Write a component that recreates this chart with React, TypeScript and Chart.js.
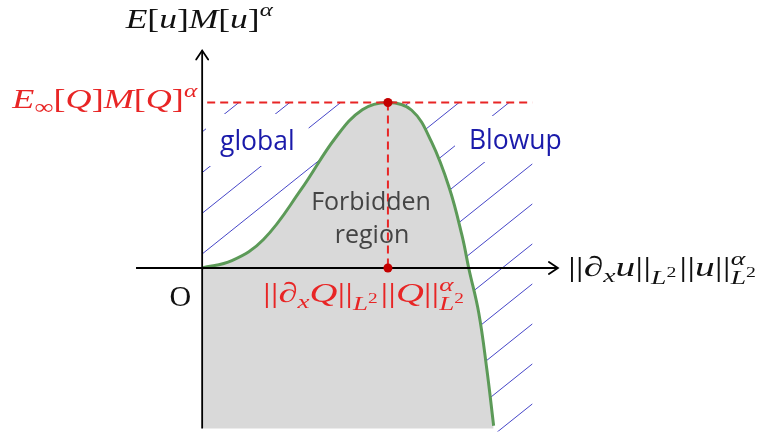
import React, { useEffect, useRef } from "react";
import { Chart, registerables } from "chart.js";

Chart.register(...registerables);

const W = 761;
const H = 435;

// Normalized diagram units: the ground state Q sits at (1, 1)
const curveX = [0, 0.16, 0.33, 0.532, 0.718, 0.862, 1, 1.128, 1.234, 1.33, 1.399, 1.436, 1.489, 1.532, 1.569];
const curveY = [0, 0.044, 0.172, 0.473, 0.787, 0.956, 1, 0.953, 0.763, 0.485, 0.195, -0.006, -0.272, -0.609, -0.953];
const peakX = 1;
const peakY = 1;
const xDomain = [-1.064, 2.984];
const yDomain = [-0.982, 1.592];
const xAxisSpan = [-0.356, 1.915];
const yAxisSpan = [-0.97, 1.314];
const dashSpanX = [0.027, 1.777];
const regionBottom = -0.97;

const labelGlobal = "global";
const labelBlowup = "Blowup";
const labelForbidden = ["Forbidden", "region"];
const labelOrigin = "O";

type Run = { t: string; it?: boolean; s?: number; dy?: number; mark?: boolean; back?: boolean };

const titleRuns: Run[] = [
  { t: "E", it: true }, { t: "[" }, { t: "u", it: true }, { t: "]" },
  { t: "M", it: true }, { t: "[" }, { t: "u", it: true }, { t: "]" },
  { t: "α", it: true, s: 0.7, dy: -0.42 },
];
const peakRuns: Run[] = [
  { t: "E", it: true }, { t: "∞", s: 0.75, dy: 0.2 }, { t: "[" }, { t: "Q", it: true }, { t: "]" },
  { t: "M", it: true }, { t: "[" }, { t: "Q", it: true }, { t: "]" },
  { t: "α", it: true, s: 0.7, dy: -0.42 },
];
const qRuns: Run[] = [
  { t: "||" }, { t: "∂", it: true }, { t: "x", it: true, s: 0.7, dy: 0.2 }, { t: "Q", it: true }, { t: "||" },
  { t: "L", it: true, s: 0.7, dy: 0.28 }, { t: "2", s: 0.5, dy: 0.02 }, { t: " ", s: 0.3 },
  { t: "||" }, { t: "Q", it: true }, { t: "||" },
  { t: "α", it: true, s: 0.7, dy: -0.38, mark: true },
  { t: "L", it: true, s: 0.7, dy: 0.3, back: true }, { t: "2", s: 0.5, dy: 0.04 },
];
const axisRuns: Run[] = [
  { t: "||" }, { t: "∂", it: true }, { t: "x", it: true, s: 0.7, dy: 0.2 }, { t: "u", it: true }, { t: "||" },
  { t: "L", it: true, s: 0.7, dy: 0.28 }, { t: "2", s: 0.5, dy: 0.02 }, { t: " ", s: 0.3 },
  { t: "||" }, { t: "u", it: true }, { t: "||" },
  { t: "α", it: true, s: 0.7, dy: -0.38, mark: true },
  { t: "L", it: true, s: 0.7, dy: 0.3, back: true }, { t: "2", s: 0.5, dy: 0.04 },
];

const RED = "#e82525";
const DOT = "#c40000";
const GREEN = "#5c9a58";
const BLUE_TXT = "#1a1aaa";
const HATCH = "#4646c8";
const GRAY = "#d9d9d9";
const SANS = '"Open Sans", "Noto Sans", sans-serif';

function fontFor(r: Run, size: number) {
  const sz = size * (r.s ?? 1);
  return `${r.it ? "italic " : ""}${sz}px "Liberation Serif", "DejaVu Serif", serif`;
}

function layoutMath(ctx: CanvasRenderingContext2D, runs: Run[], size: number) {
  let x = 0, stackStart = 0, stackEnd = 0, hasStack = false;
  const items: { r: Run; x: number; font: string }[] = [];
  for (const r of runs) {
    if (r.back) x = stackStart;
    if (r.mark) { stackStart = x; hasStack = true; }
    const f = fontFor(r, size);
    ctx.font = f;
    const w = ctx.measureText(r.t).width;
    items.push({ r, x, font: f });
    x += w;
    if (r.mark) stackEnd = x;
  }
  return { items, width: hasStack ? Math.max(x, stackEnd) : x };
}

function drawMath(ctx: CanvasRenderingContext2D, runs: Run[], o: { x: number; y: number; size: number; color: string; width?: number; align?: "left" | "right" | "center" }) {
  const { items, width } = layoutMath(ctx, runs, o.size);
  const tw = o.width ?? width;
  const sx = tw / width;
  let x0 = o.x;
  if (o.align === "right") x0 -= tw;
  else if (o.align === "center") x0 -= tw / 2;
  ctx.save();
  ctx.translate(x0, o.y);
  ctx.scale(sx, 1);
  ctx.fillStyle = o.color;
  ctx.textBaseline = "alphabetic";
  ctx.textAlign = "left";
  for (const it of items) {
    ctx.font = it.font;
    ctx.fillText(it.r.t, it.x, (it.r.dy ?? 0) * o.size);
  }
  ctx.restore();
}

function traceForward(ctx: CanvasRenderingContext2D, pts: any[], i0: number, i1: number) {
  for (let i = i0 + 1; i <= i1; i++) {
    const p = pts[i - 1], c = pts[i];
    if (p.cp2x !== undefined && c.cp1x !== undefined) ctx.bezierCurveTo(p.cp2x, p.cp2y, c.cp1x, c.cp1y, c.x, c.y);
    else ctx.lineTo(c.x, c.y);
  }
}
function traceBackward(ctx: CanvasRenderingContext2D, pts: any[], i1: number, i0: number) {
  for (let i = i1 - 1; i >= i0; i--) {
    const p = pts[i + 1], c = pts[i];
    if (p.cp1x !== undefined && c.cp2x !== undefined) ctx.bezierCurveTo(p.cp1x, p.cp1y, c.cp2x, c.cp2y, c.x, c.y);
    else ctx.lineTo(c.x, c.y);
  }
}

function hatch(ctx: CanvasRenderingContext2D, ax: number, ay: number, spacing: number, slope: number) {
  ctx.strokeStyle = HATCH;
  ctx.lineWidth = 1;
  ctx.beginPath();
  for (let k = -25; k <= 25; k++) {
    const y0 = ay + k * spacing;
    ctx.moveTo(ax - 600, y0 - slope * 600);
    ctx.lineTo(ax + 600, y0 + slope * 600);
  }
  ctx.stroke();
}

const CURVE_INDEX = 5;

const diagramPlugin = {
  id: "diagram",
  beforeDatasetsDraw(chart: any) {
    const ctx: CanvasRenderingContext2D = chart.ctx;
    const xs = chart.scales.x, ys = chart.scales.y;
    const meta = chart.getDatasetMeta(CURVE_INDEX);
    meta.dataset.updateControlPoints(chart.chartArea, "x");
    const pts = meta.data;
    const pk = curveX.indexOf(peakX);
    const ax = xs.getPixelForValue(0), oy = ys.getPixelForValue(0);
    const topY = ys.getPixelForValue(peakY);
    const rightX = xs.getPixelForValue(dashSpanX[1]);
    const botY = ys.getPixelForValue(regionBottom);

    // left hatched region (global existence)
    ctx.save();
    ctx.beginPath();
    ctx.moveTo(ax, topY);
    ctx.lineTo(pts[0].x, pts[0].y);
    traceForward(ctx, pts, 0, pk);
    ctx.closePath();
    ctx.clip();
    hatch(ctx, ax, oy - 14, 40.7, -0.8);
    ctx.restore();

    // right hatched region (blow-up)
    const last = pts.length - 1;
    ctx.save();
    ctx.beginPath();
    ctx.moveTo(pts[pk].x, pts[pk].y);
    ctx.lineTo(rightX, topY);
    ctx.lineTo(rightX, botY + 3);
    ctx.lineTo(pts[last].x, botY + 3);
    ctx.lineTo(pts[last].x, pts[last].y);
    traceBackward(ctx, pts, last, pk);
    ctx.closePath();
    ctx.clip();
    hatch(ctx, rightX, oy + 136, 40, -0.8);
    ctx.restore();

    // white text boxes cutting the hatching
    ctx.save();
    ctx.font = `26.5px ${SANS}`;
    ctx.fillStyle = "#ffffff";
    const gw = ctx.measureText(labelGlobal).width;
    ctx.fillRect(220 - 14, 150 - 36, gw + 28, 52);
    const bw = ctx.measureText(labelBlowup).width;
    ctx.fillRect(469 - 14, 149 - 33, bw + 28, 46);
    ctx.restore();
  },
  afterDatasetsDraw(chart: any) {
    const ctx: CanvasRenderingContext2D = chart.ctx;
    const xs = chart.scales.x, ys = chart.scales.y;
    const ax = xs.getPixelForValue(0), oy = ys.getPixelForValue(0);
    const xTip = xs.getPixelForValue(xAxisSpan[1]);
    const yTip = ys.getPixelForValue(yAxisSpan[1]);
    const topY = ys.getPixelForValue(peakY);

    // arrow heads
    ctx.save();
    ctx.strokeStyle = "#000";
    ctx.lineWidth = 1.8;
    ctx.lineCap = "round";
    ctx.beginPath();
    ctx.moveTo(xTip - 9, oy - 6); ctx.lineTo(xTip, oy); ctx.lineTo(xTip - 9, oy + 6);
    ctx.moveTo(ax - 6, yTip + 9); ctx.lineTo(ax, yTip); ctx.lineTo(ax + 6, yTip + 9);
    ctx.stroke();
    ctx.restore();

    // math labels
    drawMath(ctx, titleRuns, { x: ax - 3, y: 28, size: 28, color: "#111", width: 147, align: "center" });
    drawMath(ctx, peakRuns, { x: ax - 5, y: topY + 6, size: 28, color: RED, width: 185, align: "right" });
    drawMath(ctx, qRuns, { x: 263, y: oy + 34, size: 28, color: RED, width: 201 });
    drawMath(ctx, axisRuns, { x: xTip + 10, y: oy + 8, size: 28, color: "#111", width: 188 });

    ctx.save();
    ctx.font = `30px "Liberation Serif", "DejaVu Serif", serif`;
    ctx.fillStyle = "#111";
    ctx.textAlign = "right";
    ctx.textBaseline = "alphabetic";
    ctx.fillText(labelOrigin, ax - 11, oy + 38);

    ctx.textAlign = "left";
    ctx.font = `26.5px ${SANS}`;
    ctx.fillStyle = BLUE_TXT;
    ctx.fillText(labelGlobal, 220, 150);
    ctx.fillText(labelBlowup, 469, 149);

    ctx.textAlign = "center";
    ctx.font = `25px ${SANS}`;
    ctx.fillStyle = "#444";
    ctx.fillText(labelForbidden[0], 371, 210);
    ctx.fillText(labelForbidden[1], 372, 243);
    ctx.restore();
  },
};

export default function App() {
  const ref = useRef<HTMLCanvasElement | null>(null);
  useEffect(() => {
    if (!ref.current) return;
    const curve = curveX.map((x, i) => ({ x, y: curveY[i] }));
    const chart = new Chart(ref.current, {
      type: "line",
      data: {
        datasets: [
          {
            data: [{ x: peakX, y: peakY }, { x: peakX, y: 0 }],
            showLine: false,
            pointRadius: 4.5,
            pointBackgroundColor: DOT,
            pointBorderColor: DOT,
            pointBorderWidth: 0,
          } as any,
          {
            data: [{ x: dashSpanX[0], y: peakY }, { x: dashSpanX[1], y: peakY }],
            borderColor: RED,
            borderWidth: 2,
            borderDash: [8, 5],
            pointRadius: 0,
            fill: false,
          },
          {
            data: [{ x: peakX, y: peakY }, { x: peakX, y: 0 }],
            borderColor: RED,
            borderWidth: 2,
            borderDash: [8, 5],
            pointRadius: 0,
            fill: false,
          },
          {
            data: [{ x: xAxisSpan[0], y: 0 }, { x: xAxisSpan[1], y: 0 }],
            borderColor: "#000",
            borderWidth: 1.8,
            pointRadius: 0,
            fill: false,
          },
          {
            data: [{ x: 0, y: yAxisSpan[0] }, { x: 0, y: yAxisSpan[1] }],
            borderColor: "#000",
            borderWidth: 1.8,
            pointRadius: 0,
            fill: false,
          },
          {
            data: curve,
            borderColor: GREEN,
            borderWidth: 3,
            pointRadius: 0,
            tension: 0.4,
            fill: { value: regionBottom },
            backgroundColor: GRAY,
          } as any,
        ],
      },
      options: {
        responsive: false,
        animation: false,
        events: [],
        layout: { padding: 0 },
        plugins: { legend: { display: false }, tooltip: { enabled: false } },
        scales: {
          x: { type: "linear", min: xDomain[0], max: xDomain[1], display: false },
          y: { type: "linear", min: yDomain[0], max: yDomain[1], display: false },
        },
      },
      plugins: [diagramPlugin],
    });
    return () => chart.destroy();
  }, []);
  return (
    <div style={{ position: "fixed", left: 0, top: 0, width: W, height: H, background: "#fff" }}>
      <canvas ref={ref} width={W} height={H} style={{ display: "block" }} />
    </div>
  );
}
